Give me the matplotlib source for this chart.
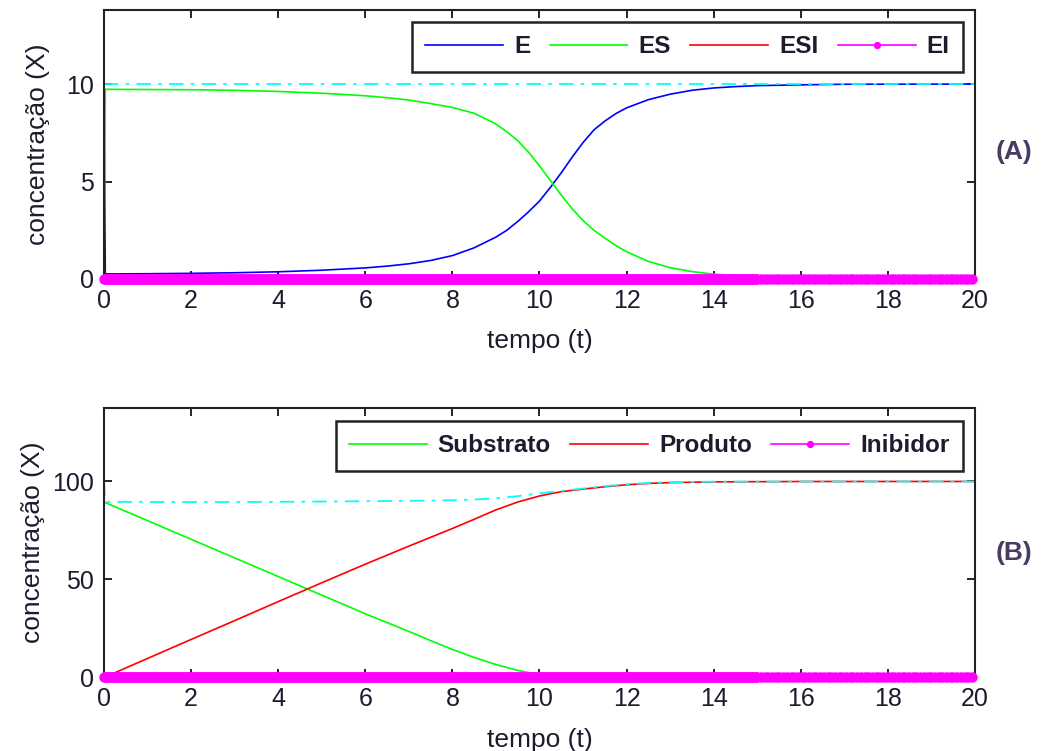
import numpy as np
import matplotlib
matplotlib.use("Agg")
import matplotlib.pyplot as plt

plt.rcParams['font.family'] = ['Liberation Sans', 'DejaVu Sans']

# ---------------- Panel A data ----------------
t_E = [0, 0.03, 1, 2, 3, 4, 5, 6, 6.5, 7, 7.5, 8, 8.5, 9, 9.25, 9.5, 9.75, 10,
       10.25, 10.5, 10.75, 11, 11.25, 11.5, 11.75, 12, 12.5, 13, 13.5, 14, 14.5,
       15, 16, 17, 20]
E = [10, 0.26, 0.27, 0.29, 0.32, 0.37, 0.45, 0.57, 0.66, 0.78, 0.95, 1.2, 1.6,
     2.15, 2.5, 2.95, 3.45, 4.0, 4.7, 5.45, 6.25, 7.0, 7.65, 8.1, 8.48, 8.78,
     9.2, 9.48, 9.68, 9.8, 9.87, 9.92, 9.96, 9.99, 10.0]
t_ES = [0, 0.03, 1, 2, 3, 4, 5, 6, 6.5, 7, 7.5, 8, 8.5, 9, 9.25, 9.5, 9.75, 10,
        10.25, 10.5, 10.75, 11, 11.25, 11.5, 11.75, 12, 12.5, 13, 13.5, 14, 14.5,
        15, 16, 17, 20]
ES = [0, 9.73, 9.72, 9.71, 9.68, 9.62, 9.53, 9.4, 9.3, 9.18, 9.0, 8.8, 8.5, 7.95,
      7.55, 7.1, 6.5, 5.8, 5.05, 4.3, 3.6, 3.0, 2.5, 2.1, 1.72, 1.4, 0.9, 0.58,
      0.38, 0.25, 0.17, 0.11, 0.05, 0.02, 0.0]
t_ESI = [0, 20]
ESI = [0, 0]
t_totA = [0, 20]
totA = [10, 10]

# solver output grid for the inhibitor-type series (all zero)
t_grid = np.concatenate([np.arange(0, 15, 0.03), np.arange(15, 20.001, 0.085)])
EI = np.zeros_like(t_grid)
labels_A = ['E', 'ES', 'ESI', 'EI']

# ---------------- Panel B data ----------------
t_S = [0, 1, 2, 3, 4, 5, 6, 6.5, 7, 7.5, 8, 8.5, 9, 9.5, 10, 10.5, 11, 12, 20]
S = [89.5, 80, 70.5, 61, 51.5, 42, 32.5, 28, 23.5, 18.8, 14.3, 10.2, 6.6, 3.6,
     1.4, 0.4, 0.1, 0, 0]
t_P = [0, 1, 2, 3, 4, 5, 6, 7, 7.5, 8, 8.5, 9, 9.5, 10, 10.5, 11, 11.5, 12, 12.5,
       13, 14, 16, 20]
P = [0, 9.7, 19.4, 29, 38.7, 48.3, 57.8, 67, 71.5, 76, 80.7, 85.5, 89.5, 92.6,
     94.8, 96.1, 97.3, 98.3, 99.0, 99.4, 99.8, 99.97, 100]
t_totB = [0, 0.03, 2, 4, 6, 7, 8, 8.5, 9, 9.5, 10, 10.5, 11, 11.5, 12, 12.5, 13,
          14, 20]
totB = [100, 89.6, 89.5, 89.6, 89.9, 90.1, 90.4, 90.8, 91.4, 92.5, 93.9, 95.2,
        96.4, 97.6, 98.6, 99.2, 99.6, 99.9, 100]
Inib = np.zeros_like(t_grid)
labels_B = ['Substrato', 'Produto', 'Inibidor']

xticks = [0, 2, 4, 6, 8, 10, 12, 14, 16, 18, 20]

txt_color = '#1c1c2e'
fs_tick = 18
fs_lab = 19
fs_leg = 17.5

fig = plt.figure(figsize=(10.41, 7.51), dpi=100)
axA = fig.add_axes([0.0999, 0.6285, 0.8367, 0.3582])
axB = fig.add_axes([0.0999, 0.0979, 0.8367, 0.3589])


def style(ax, ylim, yticks, ylab_x):
    ax.set_xlim(0, 20)
    ax.set_ylim(*ylim)
    ax.set_xticks(xticks)
    ax.set_yticks(yticks)
    ax.tick_params(direction='in', length=6, width=1.2, top=True, right=True,
                   labelsize=fs_tick, labelcolor=txt_color, pad=7)
    for s in ax.spines.values():
        s.set_linewidth(1.5)
        s.set_color('#222222')
    ax.set_xlabel('tempo (t)', fontsize=fs_lab, color=txt_color, labelpad=12)
    ax.set_ylabel('concentração (X)', fontsize=fs_lab, color=txt_color)
    ax.yaxis.set_label_coords(ylab_x, 0.5)


def legend(ax, anchor, ncol):
    leg = ax.legend(loc='upper right', bbox_to_anchor=anchor, ncol=ncol,
                    handlelength=3.2, columnspacing=0.8, handletextpad=0.45,
                    numpoints=1, fancybox=False, framealpha=1,
                    edgecolor='#222222', markerscale=0.7,
                    prop={'weight': 'bold', 'size': fs_leg}, borderpad=0.55,
                    borderaxespad=0)
    leg.get_frame().set_linewidth(1.8)
    for t in leg.get_texts():
        t.set_color(txt_color)
    return leg


lw = 1.2
mag = '#ff00ff'
cyan_ls = (0, (8, 4, 2, 4))

axA.plot(t_E, E, color='#0000ff', lw=lw, label=labels_A[0])
axA.plot(t_ES, ES, color='#00ff00', lw=lw, label=labels_A[1])
axA.plot(t_ESI, ESI, color='#ff0000', lw=lw, label=labels_A[2])
axA.plot(t_grid, EI, color=mag, lw=lw, marker='o', ms=7.5, mew=0,
         label=labels_A[3], clip_on=False, zorder=3)
axA.plot(t_totA, totA, color='#00ffff', lw=1.3, ls=cyan_ls)
style(axA, (0, 13.8), [0, 5, 10], -0.062)
legend(axA, (0.986, 0.955), 4)

axB.plot(t_S, S, color='#00ff00', lw=lw, label=labels_B[0])
axB.plot(t_P, P, color='#ff0000', lw=lw, label=labels_B[1])
axB.plot(t_grid, Inib, color=mag, lw=lw, marker='o', ms=7.5, mew=0,
         label=labels_B[2], clip_on=False, zorder=3)
axB.plot(t_totB, totB, color='#00ffff', lw=1.3, ls=cyan_ls)
style(axB, (0, 137.5), [0, 50, 100], -0.068)
legend(axB, (0.986, 0.952), 3)

fig.text(0.992, 0.797, '(A)', fontsize=19, weight='bold', color='#4a3b63',
         ha='right', va='center')
fig.text(0.992, 0.263, '(B)', fontsize=19, weight='bold', color='#4a3b63',
         ha='right', va='center')

fig.savefig('out.png', dpi=100)
